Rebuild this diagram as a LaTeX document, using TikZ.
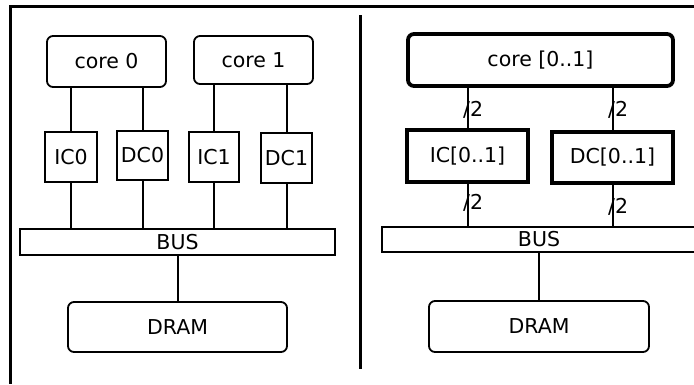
\documentclass[tikz,border=0pt]{standalone}
\usepackage{fontspec}
\setmainfont{DejaVu Sans}
\begin{document}
\begin{tikzpicture}[x=1pt,y=-1pt,
  box/.style={draw,line width=1.8pt,inner sep=0pt,outer sep=0pt,font=\fontsize{20.5}{24}\selectfont},
  rbox/.style={box,rounded corners=6pt},
  thickbox/.style={box,line width=4.2pt},
  wire/.style={line width=2pt},
  frameline/.style={line width=2.5pt},
  mult/.style={inner sep=0pt,anchor=west,font=\fontsize{20.5}{24}\selectfont}
]
\useasboundingbox (0,0) rectangle (694,384);
% frame
\coordinate (fTL) at (10.5,6.5);
\coordinate (fTR) at (694,6.5);
\coordinate (fBL) at (10.5,384);
\draw[frameline] (fTR) -- (fTL) -- (fBL);
\coordinate (sepT) at (360.5,15);
\coordinate (sepB) at (360.5,369);
\draw[frameline] (sepT) -- (sepB);

% left panel
\node[rbox,minimum width=119pt,minimum height=51pt] (core0) at (106.5,61.5) {core 0};
\node[rbox,minimum width=119pt,minimum height=48pt] (core1) at (253.5,60) {core 1};
\node[box,minimum width=52pt,minimum height=50pt] (IC0) at (71,157) {IC0};
\node[box,minimum width=51pt,minimum height=49pt] (DC0) at (142.5,155.5) {DC0};
\node[box,minimum width=50pt,minimum height=50pt] (IC1) at (214,157) {IC1};
\node[box,minimum width=51pt,minimum height=50pt] (DC1) at (286.5,158) {DC1};
\node[box,minimum width=315pt,minimum height=26pt] (BUS) at (177.5,242) {BUS};
\node[rbox,minimum width=219pt,minimum height=50pt] (DRAM) at (177.5,327) {DRAM};

\foreach \c/\k in {IC0/core0,DC0/core0,IC1/core1,DC1/core1}{
  \draw[wire] (\c.north) -- (\c.north |- \k.south);
  \draw[wire] (\c.south) -- (\c.south |- BUS.north);
}
\draw[wire] (BUS.south) -- (DRAM.north);

% right panel
\node[box,line width=3.8pt,rounded corners=6pt,minimum width=265pt,minimum height=52pt] (coreR) at (540.5,60) {core [0..1]};
\node[thickbox,minimum width=121pt,minimum height=52pt] (ICR) at (467.5,156) {IC[0..1]};
\node[thickbox,minimum width=121pt,minimum height=51pt] (DCR) at (612.5,157.5) {DC[0..1]};
\node[box,minimum width=314pt,minimum height=25pt] (BUSR) at (539,239.5) {BUS};
\node[rbox,minimum width=220pt,minimum height=51pt] (DRAMR) at (539,326.5) {DRAM};

\draw[wire] (ICR.north) -- (ICR.north |- coreR.south);
\draw[wire] (DCR.north) -- (DCR.north |- coreR.south);
\draw[wire] (ICR.south) -- (ICR.south |- BUSR.north);
\draw[wire] (DCR.south) -- (DCR.south |- BUSR.north);
\draw[wire] (BUSR.south) -- (DRAMR.north);

\node[mult] (m1) at (463,110) {/2};
\node[mult] (m2) at (608,110) {/2};
\node[mult] (m3) at (463,203) {/2};
\node[mult] (m4) at (608,207) {/2};
\end{tikzpicture}
\end{document}
